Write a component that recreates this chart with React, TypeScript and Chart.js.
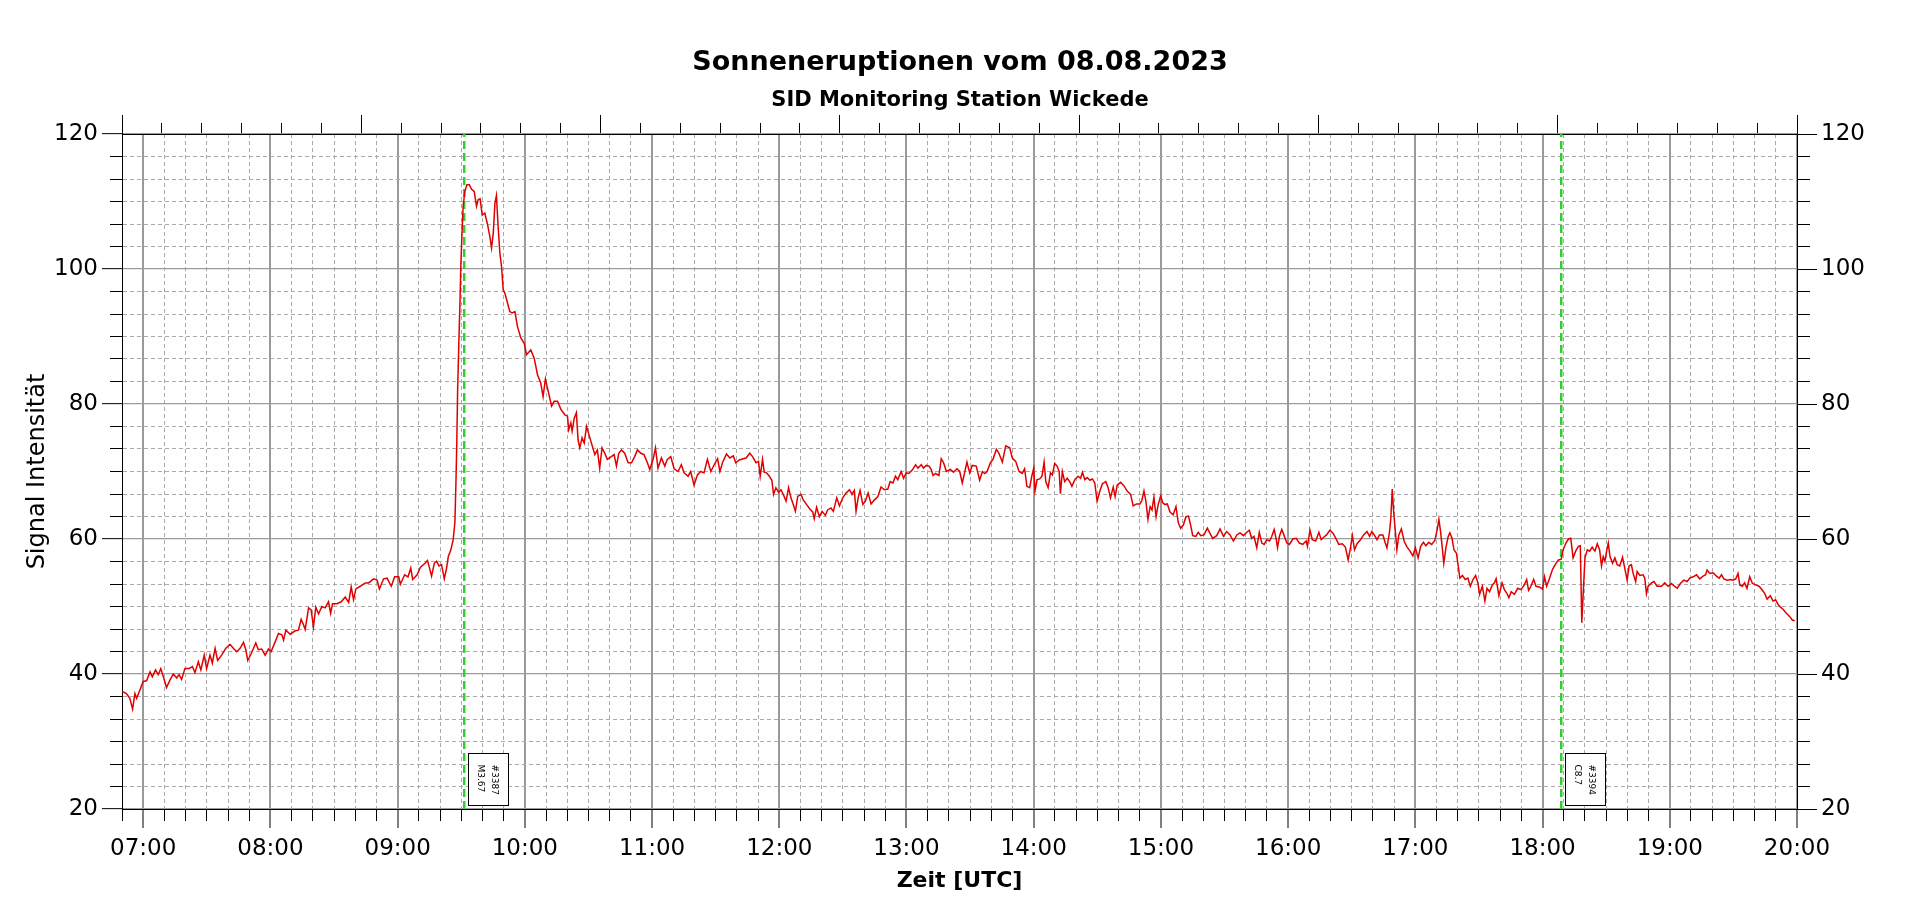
import React, { useEffect, useRef } from "react";
import { Chart, registerables } from "chart.js";

Chart.register(...registerables);

// Time in minutes since 00:00 UTC, signal intensity
const morningRise: [number, number][] = [
  [410.1, 37.4], [412.1, 37.1], [413.7, 36.4], [415.0, 34.8], [416.1, 37.1], [416.9, 36.4], [418.4, 37.6], [420.0, 38.9], [421.6, 39.0], [423.2, 40.3],
  [424.3, 39.6], [425.8, 40.6], [427.1, 39.9], [428.3, 40.8], [429.5, 39.6], [431.0, 38.0], [432.6, 39.1], [434.2, 40.0], [435.8, 39.4], [436.9, 39.9],
  [438.1, 39.2], [439.7, 40.8], [441.6, 40.8], [443.2, 41.1], [444.4, 40.2], [446.0, 41.8], [447.2, 40.6], [448.8, 42.8], [449.9, 40.8], [451.5, 42.8],
  [452.6, 41.6], [453.9, 43.8], [455.1, 42.0], [457.0, 42.8], [458.9, 43.8], [460.9, 44.4], [462.5, 43.8], [464.1, 43.3], [465.7, 43.8], [467.3, 44.7],
  [468.4, 43.6], [469.3, 42.0], [470.9, 43.0], [473.1, 44.6], [474.3, 43.6], [475.9, 43.7], [477.5, 42.8], [479.1, 43.7], [480.3, 43.3], [481.9, 44.5],
  [483.8, 46.0], [485.4, 45.8], [486.2, 45.0], [487.3, 46.5], [489.3, 45.9], [491.7, 46.4], [493.2, 46.5], [494.5, 48.1], [495.6, 47.3], [496.4, 46.6],
  [498.0, 49.8], [499.2, 49.5], [500.3, 47.0], [501.4, 49.9], [502.7, 48.9], [504.3, 50.0], [505.8, 49.8], [507.4, 50.7], [508.4, 49.0], [509.3, 50.4],
  [511.4, 50.4], [513.4, 50.7], [515.3, 51.4], [516.9, 50.6], [518.1, 52.9], [519.2, 51.0], [520.3, 52.6], [522.4, 53.0], [524.7, 53.5], [526.3, 53.5],
  [528.7, 54.1], [530.3, 53.9], [531.4, 52.6], [533.4, 54.1], [535.0, 54.2], [537.0, 53.0], [538.6, 54.4], [540.5, 54.4], [541.3, 53.3], [543.3, 54.7],
  [544.9, 54.4], [546.2, 55.7], [547.1, 54.0], [549.2, 54.7], [550.7, 55.8],
];

const flarePeak: [number, number][] = [
  [552.9, 56.4], [554.1, 56.8], [555.2, 55.5], [556.0, 54.5], [557.3, 56.4], [558.4, 56.7], [559.5, 56.0], [560.7, 56.2], [562.0, 54.1], [563.1, 55.7],
  [563.9, 57.4], [565.1, 58.4], [566.2, 59.9], [567.0, 62.4], [567.5, 68.3], [567.9, 74.2], [568.3, 82.1], [568.9, 89.5], [569.4, 95.0], [569.8, 100.4],
  [570.3, 104.8], [570.9, 109.3], [571.7, 111.5], [572.7, 112.5], [573.8, 112.5], [574.9, 111.8], [576.1, 111.5], [577.2, 109.3], [578.0, 110.3], [578.9, 110.4],
  [579.9, 108.0], [581.1, 108.3], [582.4, 106.6], [583.5, 104.8], [584.3, 103.1], [585.1, 105.3], [585.9, 109.8], [586.6, 110.9], [587.4, 106.3], [588.2, 102.4],
  [589.0, 100.4], [589.8, 96.9], [590.6, 96.4], [591.8, 95.0], [592.9, 93.7], [594.0, 93.5], [595.3, 93.7], [596.5, 91.5], [598.1, 89.8], [599.7, 89.0],
  [600.8, 87.3], [602.8, 88.0], [604.4, 86.8], [606.0, 84.3], [607.5, 83.1], [608.6, 81.1], [609.7, 83.7], [611.0, 81.9], [612.6, 79.7], [613.8, 80.4],
  [615.4, 80.4], [617.0, 79.2], [618.9, 78.4], [620.1, 78.2], [620.7, 76.2], [621.7, 77.2], [622.3, 76.0], [623.3, 77.9], [624.3, 78.7], [625.1, 74.7],
  [625.9, 73.5], [627.0, 75.0], [628.0, 74.2], [629.1, 76.7], [630.2, 75.5], [631.4, 74.2], [633.0, 72.5], [634.2, 73.2], [635.3, 70.5], [636.4, 73.5],
  [637.7, 72.7], [638.9, 71.8], [640.8, 72.2], [642.1, 72.5], [643.2, 70.8], [644.3, 72.7], [645.6, 73.2], [647.1, 72.7], [648.7, 71.3], [650.3, 71.3],
  [651.8, 72.2], [653.1, 73.2], [654.7, 72.7], [656.2, 72.5], [657.8, 71.3], [658.9, 70.3], [660.5, 71.8], [661.6, 73.5], [662.8, 70.5], [664.4, 72.0],
  [666.0, 70.8], [667.2, 71.8], [668.8, 72.2], [670.4, 70.4], [672.3, 70.0], [673.8, 71.0], [675.1, 69.8], [677.0, 69.3], [678.2, 70.0], [679.8, 68.0],
  [681.4, 69.5], [682.9, 70.0], [684.5, 69.8], [686.1, 71.8], [687.7, 70.0],
];

const middayDip: [number, number][] = [
  [689.3, 71.0], [690.9, 71.9], [692.0, 70.0], [693.2, 71.3], [695.1, 72.6], [696.7, 72.0], [698.3, 72.3], [699.5, 71.3], [701.1, 71.7], [703.0, 71.9],
  [704.3, 72.0], [706.1, 72.7], [707.4, 72.2], [709.0, 71.3], [710.2, 71.5], [711.0, 69.3], [712.1, 71.8], [712.9, 69.9], [714.0, 69.8], [715.3, 69.3],
  [716.5, 68.7], [717.3, 66.6], [718.4, 67.6], [719.7, 66.9], [720.8, 67.3], [721.9, 66.6], [723.2, 65.6], [724.4, 67.6], [725.5, 66.1], [726.6, 65.1],
  [727.6, 64.1], [728.7, 66.3], [730.2, 66.6], [731.3, 65.8], [732.9, 65.1], [734.5, 64.4], [735.8, 64.0], [736.5, 63.0], [737.6, 64.7], [738.9, 63.3],
  [740.2, 64.1], [741.7, 63.5], [742.8, 64.3], [744.4, 64.6], [745.5, 64.1], [747.1, 66.1], [748.4, 64.9], [749.9, 66.1], [751.5, 66.8], [753.1, 67.3],
  [754.3, 66.6], [755.4, 67.2], [756.2, 64.1], [757.2, 66.1], [758.1, 67.2], [759.4, 65.1], [760.6, 65.6], [761.9, 66.8], [763.3, 65.2], [764.9, 65.8],
  [766.5, 66.3], [768.0, 67.7], [769.6, 67.3], [771.2, 67.4], [772.3, 68.5], [773.6, 68.3], [774.8, 69.3], [775.9, 68.8], [777.5, 70.0], [778.6, 69.0],
  [779.9, 69.8], [781.1, 69.7], [782.7, 70.2], [784.3, 71.0], [785.4, 70.5], [787.0, 71.0], [788.0, 70.5], [789.3, 70.9], [790.6, 70.8], [791.7, 70.3],
  [792.5, 69.4], [793.7, 69.7], [795.3, 69.4], [796.4, 71.9], [797.5, 71.3], [798.8, 70.0], [800.7, 70.3], [802.2, 69.9], [803.8, 70.4], [805.1, 70.0],
  [806.3, 68.3], [807.4, 69.8], [808.5, 71.4], [809.8, 69.8], [811.0, 70.9], [812.9, 70.8], [814.5, 68.7], [815.8, 70.0], [816.9, 69.7], [818.0, 70.0],
  [819.6, 71.3], [820.8, 71.8], [822.4, 73.3], [823.6, 72.7], [825.2, 71.4], [826.8, 73.8], [828.7, 73.5],
];

const afternoonDecline: [number, number][] = [
  [829.9, 72.0], [831.5, 71.5], [833.1, 70.0], [834.6, 69.7], [835.7, 70.4], [836.8, 67.8], [838.1, 67.6], [839.1, 69.3], [840.0, 70.5], [840.6, 67.1],
  [841.6, 68.8], [842.8, 68.9], [843.9, 69.3], [844.9, 71.4], [845.7, 68.5], [846.8, 67.6], [847.9, 69.8], [848.8, 69.5], [849.9, 71.2], [851.0, 70.8],
  [852.0, 70.0], [852.6, 66.7], [853.5, 70.0], [854.6, 68.5], [855.8, 69.0], [857.0, 68.5], [858.0, 67.8], [859.4, 68.8], [860.9, 69.3], [862.1, 69.0],
  [863.0, 69.9], [864.1, 68.8], [865.2, 69.1], [866.5, 68.7], [867.7, 68.9], [868.8, 68.3], [869.9, 65.6], [871.2, 67.1], [872.4, 68.2], [874.0, 68.5],
  [875.1, 67.6], [876.2, 66.1], [877.5, 67.7], [878.4, 66.3], [879.4, 68.0], [881.0, 68.4], [882.5, 67.9], [884.1, 67.1], [885.7, 66.6], [886.9, 64.9],
  [888.5, 65.2], [890.1, 65.2], [891.0, 65.7], [892.0, 67.1], [892.9, 65.6], [893.9, 62.9], [894.9, 64.8], [895.8, 64.3], [896.7, 66.2], [897.7, 63.3],
  [898.7, 65.1], [899.9, 66.4], [900.8, 65.4], [901.9, 65.1], [903.0, 65.2], [904.3, 64.0], [905.8, 63.6], [907.1, 64.8], [908.2, 62.4], [909.3, 61.6],
  [910.6, 62.1], [911.8, 63.3], [913.0, 63.4], [914.0, 62.1], [915.0, 60.5], [916.5, 60.4], [917.6, 61.0], [918.8, 60.5], [920.3, 60.6], [921.9, 61.6],
  [923.2, 60.8], [924.4, 60.1], [926.3, 60.5], [927.9, 61.5], [929.5, 60.4], [931.0, 61.1], [932.6, 60.6], [934.2, 59.7], [935.8, 60.6], [937.3, 60.9],
  [938.9, 60.5], [940.5, 61.0], [941.7, 61.3], [942.8, 60.1], [943.9, 60.4], [945.2, 58.7], [946.4, 61.0], [947.6, 59.4], [948.7, 59.2], [949.9, 59.9],
  [951.2, 59.7], [952.3, 60.4], [953.4, 61.4], [954.3, 60.1], [955.0, 58.7], [955.9, 60.4], [957.0, 61.4], [958.1, 60.5], [959.4, 59.4], [960.6, 59.2],
  [962.2, 60.0], [963.8, 60.1], [965.3, 59.4], [966.9, 59.2], [968.5, 59.7],
];

const lateAfternoon: [number, number][] = [
  [969.1, 58.9], [970.3, 61.3], [971.4, 59.9], [973.0, 59.7], [974.5, 61.0], [975.6, 59.9], [976.9, 60.3], [978.1, 60.6], [979.7, 61.3], [981.3, 60.8],
  [982.8, 59.9], [983.9, 59.2], [985.5, 59.3], [987.0, 58.8], [988.3, 56.9], [989.4, 58.7], [990.3, 60.5], [991.3, 58.4], [992.5, 59.3], [994.1, 59.9],
  [995.6, 60.6], [997.2, 61.1], [998.4, 60.4], [999.5, 61.1], [1000.6, 60.6], [1001.9, 59.9], [1003.1, 60.6], [1004.7, 60.6], [1005.8, 59.4], [1006.6, 58.7],
  [1007.8, 61.0], [1008.4, 62.9], [1009.1, 67.4], [1009.7, 64.3], [1010.3, 62.1], [1011.3, 58.4], [1012.2, 60.6], [1013.4, 61.5], [1014.7, 59.7], [1015.9, 58.9],
  [1017.5, 58.2], [1018.8, 57.5], [1020.0, 58.7], [1021.3, 57.2], [1022.5, 58.9], [1023.8, 59.5], [1025.0, 59.0], [1026.3, 59.5], [1027.7, 59.2], [1029.2, 59.8],
  [1030.3, 61.4], [1031.1, 62.9], [1031.9, 61.1], [1032.8, 58.4], [1033.4, 56.4], [1034.4, 58.7], [1035.5, 60.4], [1036.3, 60.9], [1037.3, 60.1], [1038.2, 58.4],
  [1039.4, 57.9], [1040.2, 56.0], [1041.0, 54.2], [1042.2, 54.6], [1043.5, 54.0], [1044.8, 54.2], [1045.9, 53.0], [1047.2, 54.0], [1048.4, 54.6], [1049.5, 53.5],
  [1050.3, 51.8], [1051.6, 53.0], [1052.8, 50.8], [1053.8, 52.7], [1055.0, 52.2], [1056.3, 53.2], [1057.3, 53.5], [1058.1, 54.1], [1059.4, 51.6], [1060.9, 53.5],
  [1062.0, 52.5], [1063.1, 52.0], [1064.1, 51.3], [1065.2, 52.2], [1066.7, 51.8], [1068.3, 52.7], [1069.8, 52.5], [1071.4, 53.2], [1072.5, 54.0], [1073.4, 52.4],
  [1074.5, 53.0], [1075.8, 54.0], [1076.9, 53.0], [1078.4, 52.9], [1080.0, 52.6], [1080.9, 54.4], [1081.9, 53.0], [1083.1, 54.0], [1084.7, 55.5], [1086.3, 56.4],
  [1087.5, 56.9], [1088.8, 57.0], [1089.7, 58.4], [1091.0, 59.4], [1092.2, 60.0], [1093.3, 60.1], [1094.4, 57.2], [1095.6, 58.2], [1096.9, 58.9], [1097.8, 59.0],
  [1098.5, 47.6], [1099.1, 51.5], [1100.0, 57.2], [1101.1, 58.4], [1102.2, 58.2], [1103.4, 58.8], [1104.7, 58.2], [1105.8, 59.3], [1106.9, 58.4],
];

const evening: [number, number][] = [
  [1107.8, 56.0], [1108.6, 57.4], [1109.4, 56.7], [1110.2, 58.2], [1111.0, 59.4], [1111.8, 57.4], [1113.0, 56.4], [1114.1, 57.2], [1115.2, 56.2], [1116.4, 56.0],
  [1117.7, 57.3], [1118.8, 55.6], [1119.9, 53.9], [1120.8, 56.0], [1121.9, 56.2], [1122.7, 54.9], [1123.9, 53.7], [1124.6, 55.2], [1125.9, 54.6], [1127.4, 54.7],
  [1128.2, 54.2], [1129.0, 51.9], [1129.8, 53.0], [1131.4, 53.5], [1132.5, 53.7], [1134.0, 53.0], [1136.1, 53.0], [1137.6, 53.5], [1139.2, 53.0], [1140.8, 53.4],
  [1141.9, 53.1], [1143.5, 52.7], [1145.0, 53.4], [1146.6, 53.9], [1148.2, 53.7], [1149.4, 54.2], [1151.0, 54.4], [1152.6, 54.7], [1154.1, 54.1], [1155.7, 54.5],
  [1156.9, 54.7], [1157.6, 55.4], [1158.9, 54.9], [1160.4, 55.0], [1162.0, 54.5], [1163.3, 54.2], [1164.4, 54.7], [1165.5, 54.1], [1167.0, 53.9], [1168.6, 54.0],
  [1169.8, 53.9], [1171.1, 54.1], [1172.2, 54.9], [1173.0, 53.2], [1174.2, 53.0], [1175.3, 53.5], [1176.4, 52.7], [1177.7, 54.4], [1179.0, 53.4], [1180.5, 53.2],
  [1182.1, 53.0], [1183.7, 52.4], [1184.8, 51.9], [1185.9, 51.1], [1187.4, 51.6], [1188.7, 50.8], [1189.9, 51.0], [1191.1, 50.3], [1192.2, 49.9], [1193.4, 49.6],
  [1195.0, 49.0], [1196.6, 48.5], [1197.8, 48.0], [1198.9, 47.9],
];

// Flare markers
const flareTimes = [571.4, 1088.8];
const flareIds = ["#3387", "#3394"];
const flareClasses = ["M3.67", "C8.7"];

// Axes
const X_MIN = 410; // 06:50
const X_MAX = 1200; // 20:00
const Y_MIN = 20;
const Y_MAX = 120;
const xTickValues = Array.from({ length: 80 }, (_, i) => X_MIN + i * 10);
const yTickValues = Array.from({ length: 31 }, (_, i) => Y_MIN + (i * 10) / 3);
const topTickValues = Array.from({ length: 43 }, (_, i) => i);

const FONT = '"DejaVu Sans", "Noto Sans", sans-serif';

const isHour = (v: number) => Math.abs(v % 60) < 1e-6;
const isMajorY = (v: number) => {
  const r = Math.round(v);
  return Math.abs(v - r) < 1e-6 && r % 20 === 0;
};
const fmtTime = (v: number) =>
  `${String(Math.floor(v / 60)).padStart(2, "0")}:${String(Math.round(v % 60)).padStart(2, "0")}`;

const flarePlugin = {
  id: "flareLabels",
  afterDatasetsDraw(chart: any) {
    const { ctx, chartArea, scales } = chart;
    ctx.save();
    ctx.font = `9px ${FONT}`;
    flareTimes.forEach((t, i) => {
      const x = scales.x.getPixelForValue(t);
      const w = Math.max(ctx.measureText(flareIds[i]).width, ctx.measureText(flareClasses[i]).width);
      const boxW = 40;
      const boxH = Math.round(w + 22);
      const left = Math.round(x + 4) + 0.5;
      const bottom = Math.round(chartArea.bottom - 4) + 0.5;
      const top = bottom - boxH;
      ctx.fillStyle = "#ffffff";
      ctx.fillRect(left, top, boxW, boxH);
      ctx.strokeStyle = "#000000";
      ctx.lineWidth = 1;
      ctx.setLineDash([]);
      ctx.strokeRect(left, top, boxW, boxH);
      ctx.save();
      ctx.translate(left + 26, top + 11);
      ctx.rotate(Math.PI / 2);
      ctx.fillStyle = "#000000";
      ctx.textAlign = "left";
      ctx.textBaseline = "middle";
      ctx.fillText(flareIds[i], 0, 0);
      ctx.fillText(flareClasses[i], 0, 14);
      ctx.restore();
    });
    ctx.restore();
  },
};

export default function App() {
  const canvasRef = useRef<HTMLCanvasElement | null>(null);

  useEffect(() => {
    if (!canvasRef.current) return;
    const series = [...morningRise, ...flarePeak, ...middayDip, ...afternoonDecline, ...lateAfternoon, ...evening].map(
      ([x, y]) => ({ x, y })
    );
    const flareLines = flareTimes.map((t) => ({
      data: [
        { x: t, y: Y_MIN },
        { x: t, y: Y_MAX },
      ],
      borderColor: "#33cc33",
      borderWidth: 2.5,
      borderDash: [8, 4],
      pointRadius: 0,
      fill: false,
    }));

    const chart = new Chart(canvasRef.current, {
      type: "line",
      data: {
        datasets: [
          {
            data: series,
            borderColor: "#e00000",
            borderWidth: 1.5,
            pointRadius: 0,
            tension: 0,
            fill: false,
          },
          ...flareLines,
        ] as any,
      },
      plugins: [flarePlugin as any],
      options: {
        responsive: false,
        animation: false,
        events: [],
        layout: { padding: 0 },
        plugins: {
          legend: { display: false },
          tooltip: { enabled: false },
          title: {
            display: true,
            text: "Sonneneruptionen vom 08.08.2023",
            color: "#000",
            font: { family: FONT, size: 27, weight: "bold", lineHeight: 1.2 },
            padding: { top: 47, bottom: 0 },
          },
          subtitle: {
            display: true,
            text: "SID Monitoring Station Wickede",
            color: "#000",
            font: { family: FONT, size: 21, weight: "bold", lineHeight: 1.2 },
            padding: { top: 8.7, bottom: 0 },
          },
        },
        scales: {
          x: {
            type: "linear",
            position: "bottom",
            min: X_MIN,
            max: X_MAX,
            afterBuildTicks: (scale: any) => {
              scale.ticks = xTickValues.map((value) => ({ value }));
            },
            afterFit: (scale: any) => {
              scale.height = 95;
            },
            ticks: {
              autoSkip: false,
              maxRotation: 0,
              padding: 7,
              color: "#000",
              font: { family: FONT, size: 23 },
              callback: (v: any) => (isHour(Number(v)) ? fmtTime(Number(v)) : ""),
            },
            grid: {
              color: (c: any) => (c.tick && isHour(c.tick.value) ? "#9a9a9a" : "#aaaaaa"),
              lineWidth: (c: any) => (c.tick && isHour(c.tick.value) ? 2 : 1),
              tickColor: "#000",
              tickWidth: 1,
              tickLength: 19,
              tickBorderDash: (c: any) => (c.tick && isHour(c.tick.value) ? [] : [11, 1000]),
            },
            border: {
              display: true,
              color: "#000",
              width: 1,
              dash: (c: any) => (c.tick && !isHour(c.tick.value) ? [4, 3] : []),
            },
            title: {
              display: true,
              text: "Zeit [UTC]",
              color: "#000",
              font: { family: FONT, size: 22, weight: "bold", lineHeight: 1.2 },
              padding: { top: 0, bottom: 9.3 },
            },
          },
          xTop: {
            type: "linear",
            position: "top",
            min: 0,
            max: 42,
            afterBuildTicks: (scale: any) => {
              scale.ticks = topTickValues.map((value) => ({ value }));
            },
            afterFit: (scale: any) => {
              scale.height = 20.7;
            },
            ticks: { display: false, autoSkip: false },
            grid: {
              drawOnChartArea: false,
              tickColor: "#000",
              tickWidth: 1,
              tickLength: 19,
              tickBorderDash: (c: any) => (c.tick && c.tick.value % 6 === 0 ? [] : [0, 8, 11, 1000]),
            },
            border: { display: true, color: "#000", width: 1 },
          },
          y: {
            type: "linear",
            position: "left",
            min: Y_MIN,
            max: Y_MAX,
            afterBuildTicks: (scale: any) => {
              scale.ticks = yTickValues.map((value) => ({ value }));
            },
            afterFit: (scale: any) => {
              scale.width = 122;
            },
            ticks: {
              autoSkip: false,
              padding: 4,
              color: "#000",
              font: { family: FONT, size: 23 },
              callback: (v: any) => (isMajorY(Number(v)) ? String(Math.round(Number(v))) : ""),
            },
            grid: {
              color: (c: any) => (c.tick && isMajorY(c.tick.value) ? "#9c9c9c" : "#aaaaaa"),
              lineWidth: (c: any) => (c.tick && isMajorY(c.tick.value) ? 1.3 : 1),
              tickColor: "#000",
              tickWidth: 1,
              tickLength: 20,
              tickBorderDash: (c: any) => (c.tick && isMajorY(c.tick.value) ? [] : [0, 8, 12, 1000]),
            },
            border: {
              display: true,
              color: "#000",
              width: 1,
              dash: (c: any) => (c.tick && !isMajorY(c.tick.value) ? [4, 3] : []),
            },
            title: {
              display: true,
              text: "Signal Intensität",
              color: "#000",
              font: { family: FONT, size: 24, lineHeight: 1.2 },
              padding: { top: 23, bottom: 0 },
            },
          },
          yRight: {
            type: "linear",
            position: "right",
            min: Y_MIN,
            max: Y_MAX,
            afterBuildTicks: (scale: any) => {
              scale.ticks = yTickValues.map((value) => ({ value }));
            },
            afterFit: (scale: any) => {
              scale.width = 123;
            },
            ticks: {
              autoSkip: false,
              padding: 4,
              color: "#000",
              font: { family: FONT, size: 23 },
              callback: (v: any) => (isMajorY(Number(v)) ? String(Math.round(Number(v))) : ""),
            },
            grid: {
              drawOnChartArea: false,
              tickColor: "#000",
              tickWidth: 1,
              tickLength: 20,
              tickBorderDash: (c: any) => (c.tick && isMajorY(c.tick.value) ? [] : [12, 1000]),
            },
            border: { display: true, color: "#000", width: 1 },
          },
        },
      } as any,
    });
    return () => chart.destroy();
  }, []);

  return (
    <div style={{ position: "absolute", left: 0, top: 0, width: 1920, height: 904, background: "#fff" }}>
      <canvas ref={canvasRef} width={1920} height={904} style={{ display: "block" }} />
    </div>
  );
}
